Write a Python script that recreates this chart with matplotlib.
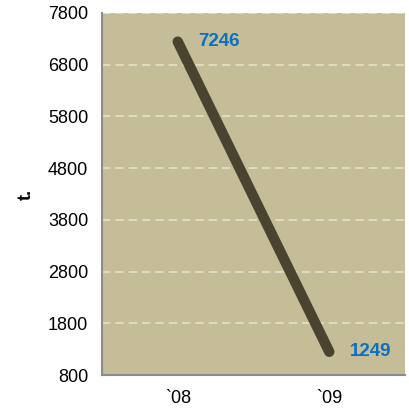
import matplotlib
matplotlib.use("Agg")
import matplotlib.pyplot as plt

categories = ["`08", "`09"]
values = [7246, 1249]
yticks = [800, 1800, 2800, 3800, 4800, 5800, 6800, 7800]

plt.rcParams['font.family'] = ['Liberation Sans', 'DejaVu Sans']

fig = plt.figure(figsize=(4.09, 4.09), dpi=100)
ax = fig.add_axes([102/409, 1-375/409, 303/409, 362/409])
ax.set_facecolor('#C5BD98')
x = list(range(len(categories)))
ax.plot(x, values, color='#4A4330', linewidth=7.5, solid_capstyle='round', zorder=3)
for xi, v in zip(x, values):
    ax.annotate(str(v), (xi, v), xytext=(15, 0), textcoords='offset points',
                color='#0A70C0', fontsize=13.5, fontweight='bold', va='center', ha='left', zorder=4)
ax.set_xlim(-0.5, 1.5)
ax.set_ylim(800, 7800)
ax.set_yticks(yticks)
ax.set_yticklabels([str(t) for t in yticks], fontsize=13)
ax.set_xticks(x)
ax.set_xticklabels(categories, fontsize=13)
ax.tick_params(length=0, pad=10)
ax.tick_params(axis='x', pad=11)
ax.yaxis.grid(True, color='#E6E1CC', linestyle=(0, (5, 3)), linewidth=1.2)
ax.set_axisbelow(True)
for s in ['top', 'right']:
    ax.spines[s].set_visible(False)
for s in ['left', 'bottom']:
    ax.spines[s].set_color('#8C8C8C')
    ax.spines[s].set_linewidth(1.5)
ax.set_ylabel('t.', fontsize=13, fontweight='bold', labelpad=9)
fig.savefig('out.png', dpi=100)
